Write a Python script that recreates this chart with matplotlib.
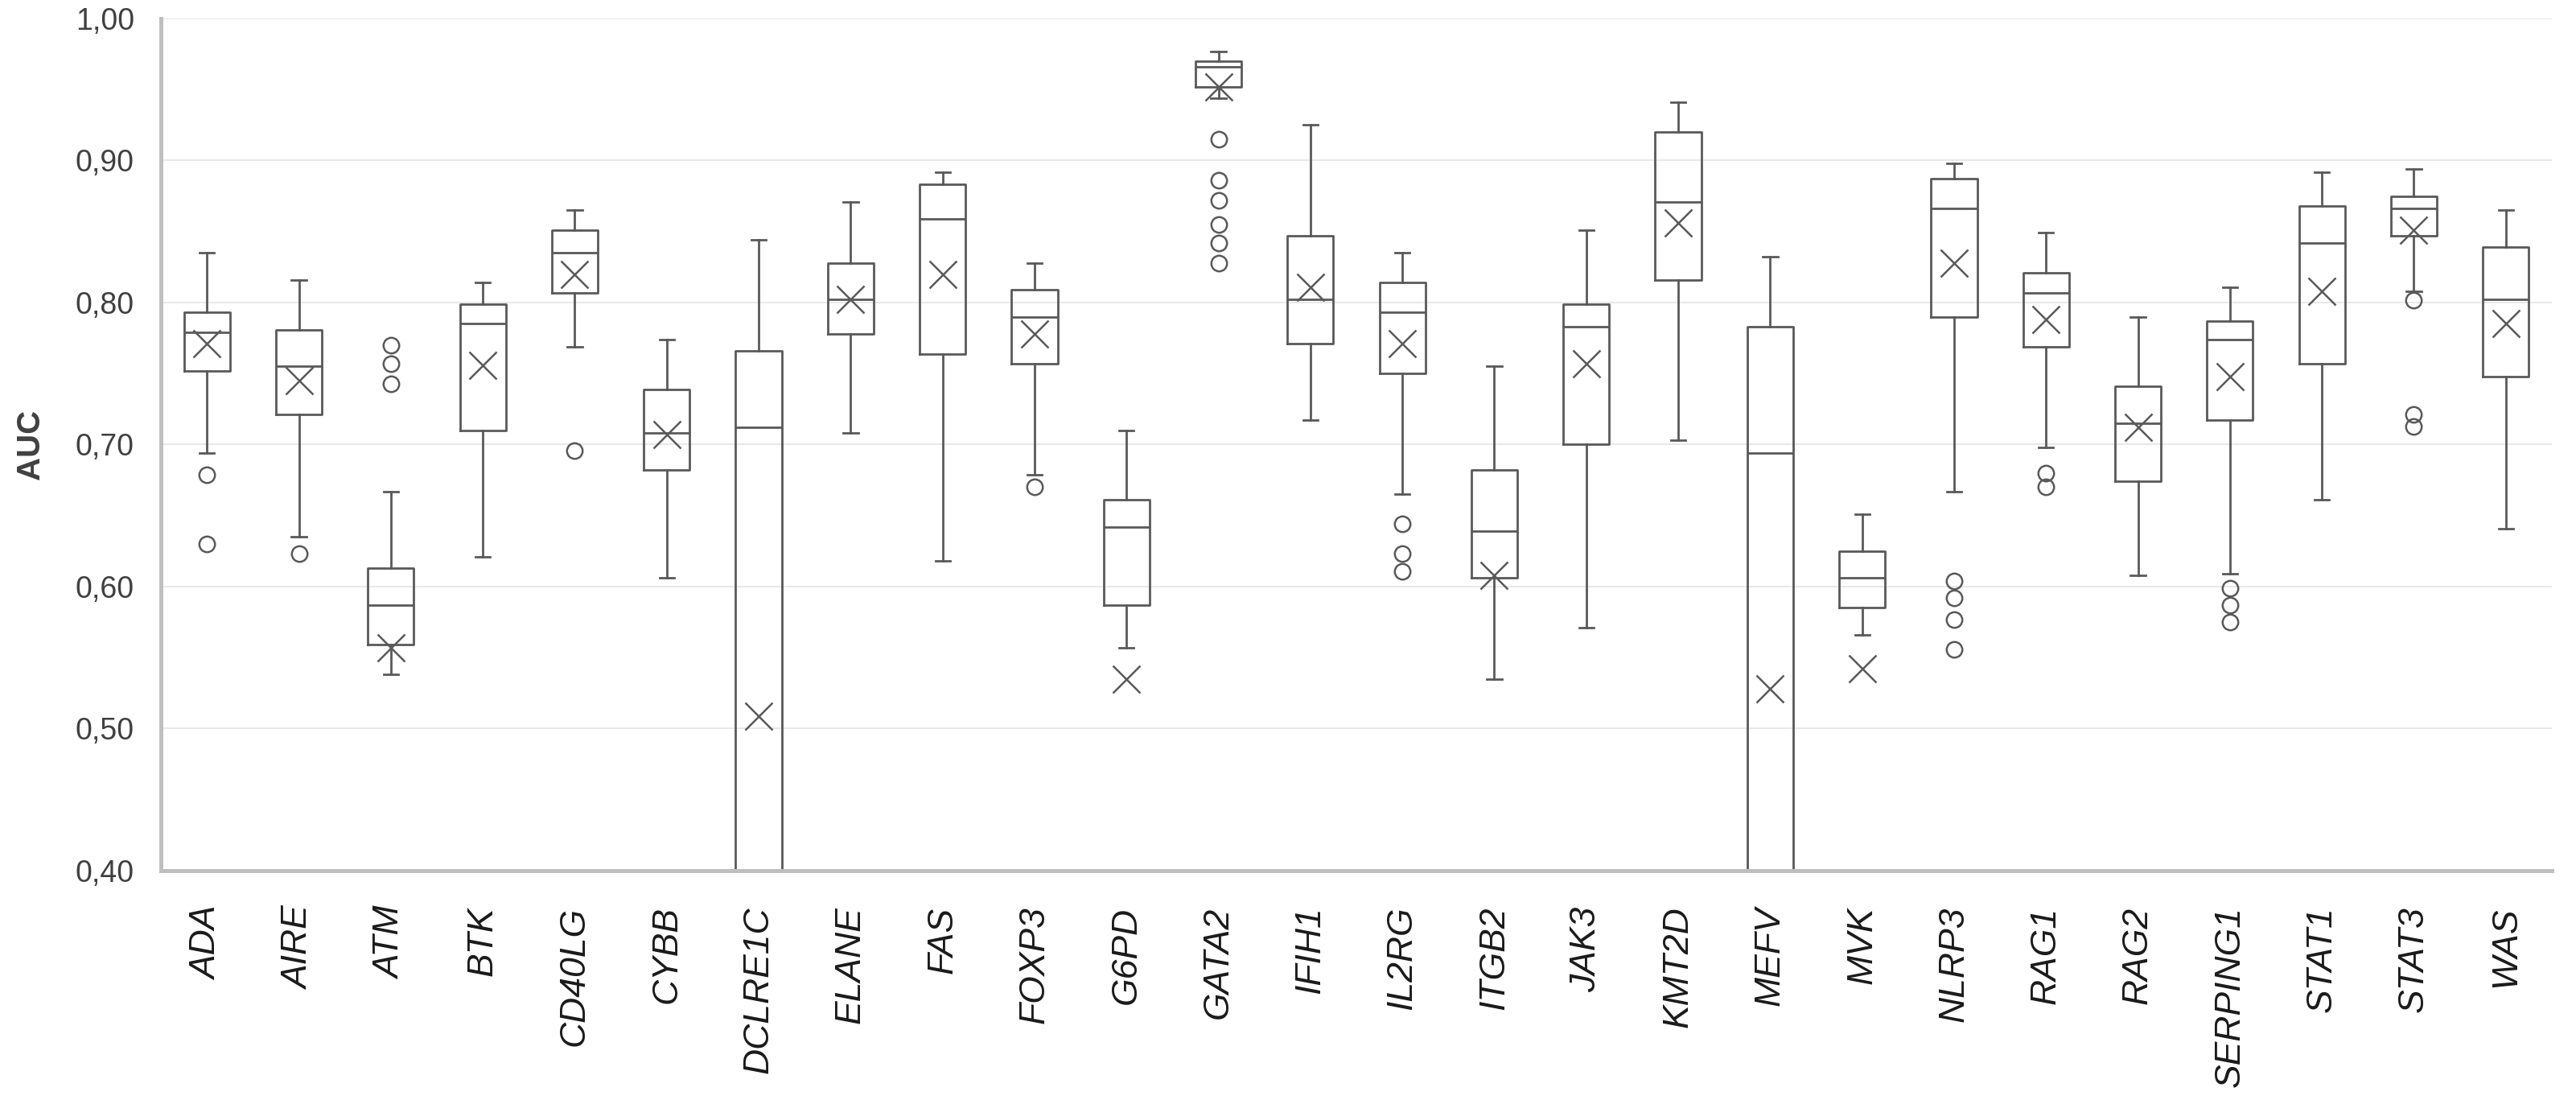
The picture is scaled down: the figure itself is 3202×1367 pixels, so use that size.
import matplotlib
matplotlib.use("Agg")
import matplotlib.pyplot as plt
from matplotlib.ticker import FuncFormatter, MultipleLocator

genes = ["ADA", "AIRE", "ATM", "BTK", "CD40LG", "CYBB", "DCLRE1C", "ELANE", "FAS",
         "FOXP3", "G6PD", "GATA2", "IFIH1", "IL2RG", "ITGB2", "JAK3", "KMT2D", "MEFV",
         "MVK", "NLRP3", "RAG1", "RAG2", "SERPING1", "STAT1", "STAT3", "WAS"]

whishi = [0.835, 0.816, 0.667, 0.814, 0.865, 0.774, 0.844, 0.871, 0.892, 0.828, 0.710, 0.977, 0.925,
          0.835, 0.755, 0.851, 0.941, 0.832, 0.651, 0.898, 0.849, 0.790, 0.811, 0.892, 0.894, 0.865]
q3 = [0.793, 0.781, 0.613, 0.799, 0.851, 0.739, 0.766, 0.828, 0.883, 0.809, 0.661, 0.970, 0.847,
      0.814, 0.682, 0.799, 0.920, 0.783, 0.625, 0.887, 0.821, 0.741, 0.787, 0.868, 0.875, 0.839]
medians = [0.779, 0.755, 0.587, 0.785, 0.835, 0.708, 0.712, 0.802, 0.859, 0.790, 0.642, 0.966, 0.802,
           0.793, 0.639, 0.783, 0.871, 0.694, 0.606, 0.866, 0.807, 0.715, 0.774, 0.842, 0.866, 0.802]
q1 = [0.752, 0.721, 0.559, 0.710, 0.807, 0.682, 0.300, 0.778, 0.764, 0.757, 0.587, 0.952, 0.771,
      0.750, 0.606, 0.700, 0.816, 0.300, 0.585, 0.790, 0.769, 0.674, 0.717, 0.757, 0.847, 0.748]
whislo = [0.694, 0.635, 0.538, 0.621, 0.769, 0.606, 0.250, 0.708, 0.618, 0.679, 0.557, 0.944, 0.717,
          0.665, 0.535, 0.571, 0.703, 0.250, 0.566, 0.667, 0.698, 0.608, 0.609, 0.661, 0.808, 0.641]
means = [0.771, 0.745, 0.557, 0.756, 0.820, 0.707, 0.509, 0.802, 0.820, 0.778, 0.535, 0.952, 0.811,
         0.771, 0.608, 0.757, 0.856, 0.528, 0.542, 0.828, 0.788, 0.712, 0.748, 0.808, 0.851, 0.785]
outliers = [
    [0.679, 0.630],                       # ADA
    [0.623],                              # AIRE
    [0.770, 0.757, 0.743],                # ATM
    [],                                   # BTK
    [0.696],                              # CD40LG
    [],                                   # CYBB
    [],                                   # DCLRE1C
    [],                                   # ELANE
    [],                                   # FAS
    [0.670],                              # FOXP3
    [],                                   # G6PD
    [0.915, 0.886, 0.872, 0.855, 0.842, 0.828],  # GATA2
    [],                                   # IFIH1
    [0.644, 0.623, 0.611],                # IL2RG
    [],                                   # ITGB2
    [],                                   # JAK3
    [],                                   # KMT2D
    [],                                   # MEFV
    [],                                   # MVK
    [0.604, 0.592, 0.577, 0.556],         # NLRP3
    [0.680, 0.670],                       # RAG1
    [],                                   # RAG2
    [0.599, 0.587, 0.575],                # SERPING1
    [],                                   # STAT1
    [0.8015, 0.721, 0.713],               # STAT3
    [],                                   # WAS
]

stats = []
for i, g in enumerate(genes):
    stats.append(dict(label=g, med=medians[i], q1=q1[i], q3=q3[i],
                      whislo=whislo[i], whishi=whishi[i], mean=means[i],
                      fliers=outliers[i]))

plt.rcParams['font.family'] = ['Liberation Sans', 'DejaVu Sans']

fig = plt.figure(figsize=(16.01, 6.835), dpi=200)
ax = fig.add_axes([0.0625, 0.2085, 0.9281, 0.7747])

col = "#595959"
lw = 1.0
positions = list(range(1, len(genes) + 1))
ax.bxp(stats, positions=positions, widths=0.5, capwidths=0.16,
       showmeans=True, showfliers=True, patch_artist=False,
       boxprops=dict(color=col, linewidth=lw),
       whiskerprops=dict(color=col, linewidth=lw),
       capprops=dict(color=col, linewidth=lw),
       medianprops=dict(color=col, linewidth=lw),
       meanprops=dict(marker='x', markersize=12, markeredgecolor=col,
                      markeredgewidth=0.9, linestyle='none'),
       flierprops=dict(marker='o', markersize=7, markerfacecolor='none',
                       markeredgecolor=col, markeredgewidth=0.9, linestyle='none'))

ax.set_xlim(0.5, len(genes) + 0.5)
ax.set_ylim(0.40, 1.00)
ax.yaxis.set_major_locator(MultipleLocator(0.10))
ax.yaxis.set_major_formatter(FuncFormatter(lambda v, p: f"{v:.2f}".replace('.', ',')))
ax.grid(axis='y', color='#E8E8E8', linewidth=0.7)
ax.set_axisbelow(True)

for s in ['top', 'right']:
    ax.spines[s].set_visible(False)
for s in ['left', 'bottom']:
    ax.spines[s].set_color('#BFBFBF')
    ax.spines[s].set_linewidth(1.8)

ax.tick_params(axis='y', length=0, pad=12, labelsize=13.5, labelcolor='#404040')
ax.tick_params(axis='x', length=0, pad=16)
ax.set_xticks(positions)
ax.set_xticklabels(genes, rotation=90, fontsize=16, fontstyle='italic', color='#1a1a1a',
                   va='top', ha='center')
ax.set_ylabel("AUC", fontsize=14.5, fontweight='bold', color='#404040', labelpad=18)
ax.yaxis.set_label_coords(-0.048, 0.5)

fig.savefig("out.png", dpi=200, facecolor='white')
